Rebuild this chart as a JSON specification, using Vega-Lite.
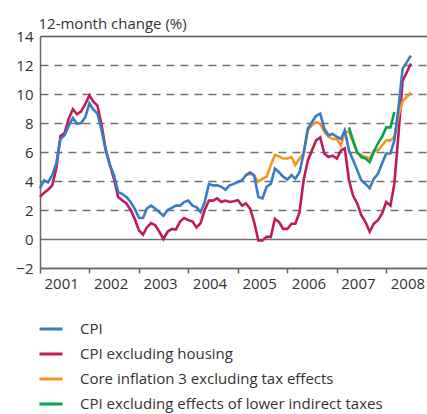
{
  "$schema": "https://vega.github.io/schema/vega-lite/v6.json",
  "autosize": "none",
  "padding": {"left": 40, "top": 36, "right": 0, "bottom": 146},
  "width": 387,
  "height": 232,
  "background": "white",
  "config": {
    "view": {"stroke": null},
    "font": "Open Sans",
    "axis": {"labelFont": "Open Sans", "titleFont": "Open Sans", "labelColor": "#333333", "titleColor": "#333333"},
    "legend": {"labelFont": "Open Sans"}
  },
  "data": {"values": [
    {"date":"2001-01-01","cpi":3.5,"exhousing":2.9},
    {"date":"2001-02-01","cpi":4.05,"exhousing":3.2},
    {"date":"2001-03-01","cpi":3.9,"exhousing":3.4},
    {"date":"2001-04-01","cpi":4.4,"exhousing":3.7},
    {"date":"2001-05-01","cpi":5.2,"exhousing":4.85},
    {"date":"2001-06-01","cpi":6.9,"exhousing":7.1},
    {"date":"2001-07-01","cpi":7.15,"exhousing":7.3},
    {"date":"2001-08-01","cpi":7.8,"exhousing":8.3},
    {"date":"2001-09-01","cpi":8.35,"exhousing":8.95},
    {"date":"2001-10-01","cpi":7.95,"exhousing":8.6},
    {"date":"2001-11-01","cpi":8.0,"exhousing":8.8},
    {"date":"2001-12-01","cpi":8.4,"exhousing":9.3},
    {"date":"2002-01-01","cpi":9.35,"exhousing":9.9},
    {"date":"2002-02-01","cpi":8.9,"exhousing":9.45},
    {"date":"2002-03-01","cpi":8.65,"exhousing":9.2},
    {"date":"2002-04-01","cpi":7.5,"exhousing":7.85},
    {"date":"2002-05-01","cpi":6.1,"exhousing":6.2},
    {"date":"2002-06-01","cpi":5.1,"exhousing":5.1},
    {"date":"2002-07-01","cpi":4.4,"exhousing":4.15},
    {"date":"2002-08-01","cpi":3.25,"exhousing":2.9},
    {"date":"2002-09-01","cpi":3.1,"exhousing":2.65},
    {"date":"2002-10-01","cpi":2.9,"exhousing":2.45},
    {"date":"2002-11-01","cpi":2.55,"exhousing":2.0},
    {"date":"2002-12-01","cpi":2.1,"exhousing":1.4},
    {"date":"2003-01-01","cpi":1.47,"exhousing":0.6},
    {"date":"2003-02-01","cpi":1.45,"exhousing":0.3},
    {"date":"2003-03-01","cpi":2.1,"exhousing":0.8},
    {"date":"2003-04-01","cpi":2.3,"exhousing":1.1},
    {"date":"2003-05-01","cpi":2.1,"exhousing":0.95},
    {"date":"2003-06-01","cpi":1.85,"exhousing":0.5},
    {"date":"2003-07-01","cpi":1.6,"exhousing":0.0},
    {"date":"2003-08-01","cpi":2.0,"exhousing":0.5},
    {"date":"2003-09-01","cpi":2.15,"exhousing":0.7},
    {"date":"2003-10-01","cpi":2.3,"exhousing":0.65},
    {"date":"2003-11-01","cpi":2.3,"exhousing":1.2},
    {"date":"2003-12-01","cpi":2.55,"exhousing":1.45},
    {"date":"2004-01-01","cpi":2.65,"exhousing":1.3},
    {"date":"2004-02-01","cpi":2.3,"exhousing":1.2},
    {"date":"2004-03-01","cpi":2.2,"exhousing":0.8},
    {"date":"2004-04-01","cpi":1.85,"exhousing":1.1},
    {"date":"2004-05-01","cpi":2.55,"exhousing":2.0},
    {"date":"2004-06-01","cpi":3.8,"exhousing":2.65},
    {"date":"2004-07-01","cpi":3.7,"exhousing":2.65},
    {"date":"2004-08-01","cpi":3.7,"exhousing":2.8},
    {"date":"2004-09-01","cpi":3.6,"exhousing":2.55},
    {"date":"2004-10-01","cpi":3.4,"exhousing":2.65},
    {"date":"2004-11-01","cpi":3.7,"exhousing":2.55},
    {"date":"2004-12-01","cpi":3.8,"exhousing":2.6},
    {"date":"2005-01-01","cpi":3.93,"exhousing":2.67},
    {"date":"2005-02-01","cpi":4.05,"exhousing":2.3},
    {"date":"2005-03-01","cpi":4.4,"exhousing":2.45,"core3":4.4},
    {"date":"2005-04-01","cpi":4.6,"exhousing":2.1,"core3":4.5},
    {"date":"2005-05-01","cpi":4.4,"exhousing":1.17,"core3":4.35},
    {"date":"2005-06-01","cpi":2.9,"exhousing":-0.1,"core3":3.95},
    {"date":"2005-07-01","cpi":2.8,"exhousing":-0.1,"core3":4.15},
    {"date":"2005-08-01","cpi":3.6,"exhousing":0.15,"core3":4.3},
    {"date":"2005-09-01","cpi":3.8,"exhousing":0.15,"core3":5.1},
    {"date":"2005-10-01","cpi":4.85,"exhousing":1.4,"core3":5.8},
    {"date":"2005-11-01","cpi":4.6,"exhousing":1.17,"core3":5.7},
    {"date":"2005-12-01","cpi":4.3,"exhousing":0.7,"core3":5.55},
    {"date":"2006-01-01","cpi":4.1,"exhousing":0.7,"core3":5.55},
    {"date":"2006-02-01","cpi":4.4,"exhousing":1.05,"core3":5.65},
    {"date":"2006-03-01","cpi":4.15,"exhousing":1.05,"core3":5.1},
    {"date":"2006-04-01","cpi":4.6,"exhousing":1.85,"core3":5.55},
    {"date":"2006-05-01","cpi":5.9,"exhousing":4.05,"core3":5.9},
    {"date":"2006-06-01","cpi":7.6,"exhousing":5.4,"core3":7.5},
    {"date":"2006-07-01","cpi":8.05,"exhousing":6.1,"core3":7.85},
    {"date":"2006-08-01","cpi":8.5,"exhousing":6.8,"core3":8.05},
    {"date":"2006-09-01","cpi":8.65,"exhousing":7.0,"core3":7.95},
    {"date":"2006-10-01","cpi":7.6,"exhousing":5.9,"core3":7.4},
    {"date":"2006-11-01","cpi":7.15,"exhousing":5.65,"core3":7.05},
    {"date":"2006-12-01","cpi":7.25,"exhousing":5.75,"core3":6.9},
    {"date":"2007-01-01","cpi":7.05,"exhousing":5.55,"core3":6.9},
    {"date":"2007-02-01","cpi":6.9,"exhousing":6.1,"core3":6.45},
    {"date":"2007-03-01","cpi":7.5,"exhousing":6.25,"core3":7.4},
    {"date":"2007-04-01","cpi":6.1,"exhousing":4.05,"core3":7.4,"exindirect":7.7},
    {"date":"2007-05-01","cpi":5.45,"exhousing":3.0,"core3":6.7,"exindirect":6.8},
    {"date":"2007-06-01","cpi":4.75,"exhousing":2.45,"core3":5.9,"exindirect":6.0},
    {"date":"2007-07-01","cpi":4.05,"exhousing":1.65,"core3":5.8,"exindirect":5.65},
    {"date":"2007-08-01","cpi":3.8,"exhousing":1.17,"core3":5.65,"exindirect":5.55},
    {"date":"2007-09-01","cpi":3.5,"exhousing":0.5,"core3":5.55,"exindirect":5.3},
    {"date":"2007-10-01","cpi":4.15,"exhousing":1.05,"core3":6.1,"exindirect":6.0},
    {"date":"2007-11-01","cpi":4.5,"exhousing":1.3,"core3":6.1,"exindirect":6.6},
    {"date":"2007-12-01","cpi":5.2,"exhousing":1.75,"core3":6.45,"exindirect":7.05},
    {"date":"2008-01-01","cpi":5.9,"exhousing":2.55,"core3":6.8,"exindirect":7.7},
    {"date":"2008-02-01","cpi":5.9,"exhousing":2.3,"core3":6.8,"exindirect":7.7},
    {"date":"2008-03-01","cpi":6.8,"exhousing":3.8,"core3":7.05,"exindirect":8.75},
    {"date":"2008-04-01","cpi":9.1,"exhousing":7.3,"core3":8.5},
    {"date":"2008-05-01","cpi":11.75,"exhousing":10.9,"core3":9.5},
    {"date":"2008-06-01","cpi":12.2,"exhousing":11.5,"core3":9.8},
    {"date":"2008-07-01","cpi":12.65,"exhousing":12.1,"core3":10.1}
  ]},
  "transform": [
    {"fold": ["cpi", "exhousing", "core3", "exindirect"], "as": ["series", "value"]},
    {"filter": "isValid(datum.value)"}
  ],
  "encoding": {
    "x": {
      "field": "date", "type": "temporal",
      "scale": {"type": "utc", "domain": [{"year": 2001, "month": 1, "date": 1, "utc": true}, {"year": 2008, "month": 10, "date": 28, "utc": true}], "nice": false},
      "axis": {
        "title": null, "format": "%Y", "tickCount": {"interval": "year", "step": 1},
        "grid": false, "domainColor": "#666666", "domainWidth": 1.5,
        "tickColor": "#666666", "tickWidth": 1.5, "tickSize": 5,
        "labelAlign": "left", "labelOffset": 4, "labelPadding": 3, "labelBaseline": "top",
        "labelFontSize": 15, "labelFlush": false, "labelOverlap": false, "labelBound": false
      }
    },
    "y": {
      "field": "value", "type": "quantitative",
      "scale": {"domain": [-2, 14], "nice": false, "zero": false},
      "axis": {
        "values": [-2, 0, 2, 4, 6, 8, 10, 12, 14],
        "title": "12-month change (%)", "titleAngle": 0, "titleAlign": "left", "titleBaseline": "alphabetic",
        "titleX": -2, "titleY": -8, "titleFontSize": 15, "titleFontWeight": "normal",
        "ticks": false, "labelPadding": 7, "labelFontSize": 15,
        "domainColor": "#666666", "domainWidth": 1.5,
        "grid": true, "gridWidth": 1.5,
        "gridColor": {"condition": {"test": "datum.value === 14", "value": "#555555"}, "value": "#707070"},
        "gridDash": {"condition": {"test": "datum.value === 0 || datum.value === 14 || datum.value === -2", "value": []}, "value": [8, 6]}
      }
    },
    "color": {
      "field": "series", "type": "nominal",
      "scale": {"domain": ["cpi", "exhousing", "core3", "exindirect"], "range": ["#3a7cc4", "#be1a5e", "#f7941d", "#00a651"]},
      "legend": {
        "title": null, "orient": "none", "legendX": -2, "legendY": 280, "direction": "vertical",
        "symbolType": "stroke", "symbolSize": 529, "symbolStrokeWidth": 3,
        "labelFontSize": 15, "labelColor": "#333333", "labelOffset": 16, "rowPadding": 4, "padding": 0,
        "labelLimit": 400,
        "labelExpr": "datum.value === 'cpi' ? 'CPI' : datum.value === 'exhousing' ? 'CPI excluding housing' : datum.value === 'core3' ? 'Core inflation 3 excluding tax effects' : 'CPI excluding effects of lower indirect taxes'"
      }
    }
  },
  "layer": [
    {"transform": [{"filter": "datum.series === 'exhousing'"}], "mark": {"type": "line", "strokeWidth": 2.6}},
    {"transform": [{"filter": "datum.series === 'core3'"}], "mark": {"type": "line", "strokeWidth": 2.6}},
    {"transform": [{"filter": "datum.series === 'exindirect'"}], "mark": {"type": "line", "strokeWidth": 2.6}},
    {"transform": [{"filter": "datum.series === 'cpi'"}], "mark": {"type": "line", "strokeWidth": 2.6}}
  ]
}
